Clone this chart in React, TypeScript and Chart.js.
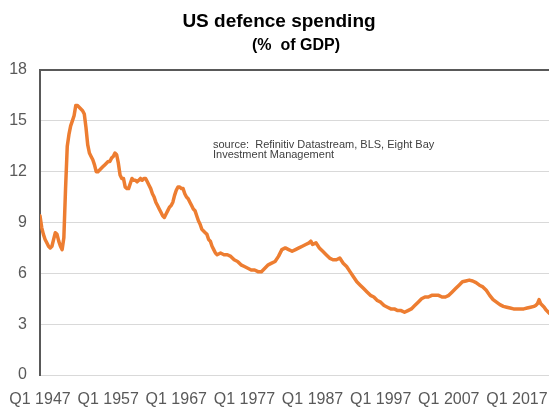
import React, { useEffect, useRef } from "react";
import { Chart, registerables } from "chart.js";

Chart.register(...registerables);

const TITLE = "US defence spending";
const SUBTITLE = "(%  of GDP)";
const SOURCE_LINES = [
  "source:  Refinitiv Datastream, BLS, Eight Bay",
  "Investment Management",
];
const X_TICKS = [1947, 1957, 1967, 1977, 1987, 1997, 2007, 2017];
const X_PREFIX = "Q1 ";

// decimal years (quarter starts)
const periods = [
  1947.0, 1947.25, 1947.5, 1947.75, 1948.0, 1948.25, 1948.5, 1948.75,
  1949.0, 1949.25, 1949.5, 1949.75, 1950.0, 1950.25, 1950.5, 1950.75,
  1951.0, 1951.25, 1951.5, 1951.75, 1952.0, 1952.25, 1952.5, 1952.75,
  1953.0, 1953.25, 1953.5, 1953.75, 1954.0, 1954.25, 1954.5, 1954.75,
  1955.0, 1955.25, 1955.5, 1955.75, 1956.0, 1956.25, 1956.5, 1956.75,
  1957.0, 1957.25, 1957.5, 1957.75, 1958.0, 1958.25, 1958.5, 1958.75,
  1959.0, 1959.25, 1959.5, 1959.75, 1960.0, 1960.25, 1960.5, 1960.75,
  1961.0, 1961.25, 1961.5, 1961.75, 1962.0, 1962.25, 1962.5, 1962.75,
  1963.0, 1963.25, 1963.5, 1963.75, 1964.0, 1964.25, 1964.5, 1964.75,
  1965.0, 1965.25, 1965.5, 1965.75, 1966.0, 1966.25, 1966.5, 1966.75,
  1967.0, 1967.25, 1967.5, 1967.75, 1968.0, 1968.25, 1968.5, 1968.75,
  1969.0, 1969.25, 1969.5, 1969.75, 1970.0, 1970.25, 1970.5, 1970.75,
  1971.0, 1971.25, 1971.5, 1971.75, 1972.0, 1972.25, 1972.5, 1972.75,
  1973.0, 1973.5, 1974.0, 1974.5, 1975.0, 1975.5, 1976.0, 1976.5,
  1977.0, 1977.5, 1978.0, 1978.5, 1979.0, 1979.5, 1980.0, 1980.5,
  1981.0, 1981.5, 1982.0, 1982.5, 1983.0, 1983.5, 1984.0, 1984.5,
  1985.0, 1985.5, 1986.0, 1986.5, 1986.75, 1987.0, 1987.5, 1988.0,
  1988.5, 1989.0, 1989.5, 1990.0, 1990.5, 1991.0, 1991.5, 1992.0,
  1992.5, 1993.0, 1993.5, 1994.0, 1994.5, 1995.0, 1995.5, 1996.0,
  1996.5, 1997.0, 1997.5, 1998.0, 1998.5, 1999.0, 1999.5, 2000.0,
  2000.5, 2001.0, 2001.5, 2002.0, 2002.5, 2003.0, 2003.5, 2004.0,
  2004.5, 2005.0, 2005.5, 2006.0, 2006.5, 2007.0, 2007.5, 2008.0,
  2008.5, 2009.0, 2009.5, 2010.0, 2010.5, 2011.0, 2011.5, 2012.0,
  2012.5, 2013.0, 2013.5, 2014.0, 2014.5, 2015.0, 2015.5, 2016.0,
  2016.5, 2017.0, 2017.5, 2018.0, 2018.5, 2019.0, 2019.5, 2019.75,
  2020.0, 2020.25, 2020.5, 2020.75, 2021.0, 2021.25, 2021.5, 2021.75,
];

const defence = [
  9.4, 8.7, 8.3, 8.0, 7.8, 7.6, 7.5, 7.6,
  8.0, 8.4, 8.3, 7.9, 7.6, 7.4, 8.1, 11.0,
  13.5, 14.2, 14.7, 15.0, 15.3, 15.9, 15.9, 15.8,
  15.7, 15.6, 15.4, 14.6, 13.6, 13.1, 12.9, 12.7,
  12.4, 12.0, 12.0, 12.1, 12.2, 12.3, 12.4, 12.5,
  12.6, 12.6, 12.8, 12.9, 13.1, 13.0, 12.5, 11.8,
  11.6, 11.6, 11.1, 11.0, 11.0, 11.3, 11.6, 11.5,
  11.5, 11.4, 11.5, 11.6, 11.5, 11.6, 11.6, 11.4,
  11.2, 11.0, 10.7, 10.5, 10.2, 10.0, 9.8, 9.6,
  9.4, 9.3, 9.5, 9.7, 9.9, 10.0, 10.2, 10.6,
  10.9, 11.1, 11.1, 11.0, 11.0, 10.7, 10.5, 10.4,
  10.2, 10.0, 9.8, 9.7, 9.4, 9.1, 8.9, 8.6,
  8.5, 8.4, 8.3, 8.0, 7.9, 7.6, 7.4, 7.2,
  7.1, 7.2, 7.1, 7.1, 7.0, 6.8, 6.7, 6.5,
  6.4, 6.3, 6.2, 6.2, 6.1, 6.1, 6.3, 6.5,
  6.6, 6.7, 7.0, 7.4, 7.5, 7.4, 7.3, 7.4,
  7.5, 7.6, 7.7, 7.8, 7.9, 7.7, 7.8, 7.5,
  7.3, 7.1, 6.9, 6.8, 6.8, 6.9, 6.6, 6.4,
  6.1, 5.8, 5.5, 5.3, 5.1, 4.9, 4.7, 4.6,
  4.4, 4.3, 4.1, 4.0, 3.9, 3.9, 3.8, 3.8,
  3.7, 3.8, 3.9, 4.1, 4.3, 4.5, 4.6, 4.6,
  4.7, 4.7, 4.7, 4.6, 4.6, 4.7, 4.9, 5.1,
  5.3, 5.5, 5.55, 5.6, 5.55, 5.45, 5.3, 5.2,
  5.0, 4.7, 4.45, 4.3, 4.15, 4.05, 4.0, 3.95,
  3.9, 3.9, 3.9, 3.9, 3.95, 4.0, 4.05, 4.1,
  4.2, 4.45, 4.2, 4.1, 4.0, 3.85, 3.75, 3.65,
];

const FONT = '"Liberation Sans", Arial, sans-serif';

const textPlugin = {
  id: "headerAndSource",
  afterDraw(chart: any) {
    const { ctx, chartArea } = chart;
    ctx.save();
    ctx.fillStyle = "#000000";
    ctx.textAlign = "center";
    ctx.textBaseline = "middle";
    ctx.font = `bold 19px ${FONT}`;
    ctx.fillText(TITLE, 279, 22);
    ctx.font = `bold 16px ${FONT}`;
    ctx.fillText(SUBTITLE, 296, 46);

    ctx.font = `11px ${FONT}`;
    ctx.fillStyle = "#404040";
    ctx.textAlign = "left";
    SOURCE_LINES.forEach((line, i) => {
      ctx.fillText(line, chartArea.left + 173, chartArea.top + 75 + i * 10);
    });
    ctx.restore();
  },
};

export default function App() {
  const canvasRef = useRef<HTMLCanvasElement | null>(null);

  useEffect(() => {
    if (!canvasRef.current) return;
    Chart.defaults.font.family = FONT;
    const chart = new Chart(canvasRef.current, {
      type: "line",
      data: {
        datasets: [
          {
            label: "US defence spending",
            data: periods.map((p, i) => ({ x: p, y: defence[i] })),
            borderColor: "#ED7D31",
            backgroundColor: "#ED7D31",
            borderWidth: 3.5,
            pointRadius: 0,
            tension: 0,
            borderJoinStyle: "round",
            borderCapStyle: "round",
          },
        ],
      },
      options: {
        animation: false,
        responsive: false,
        maintainAspectRatio: false,
        layout: { padding: { left: 0, right: 9, top: 70, bottom: 0 } },
        plugins: {
          legend: { display: false },
          tooltip: { enabled: false },
          title: { display: false },
          subtitle: { display: false },
        },
        scales: {
          x: {
            type: "linear",
            min: 1947,
            max: 2022,
            grid: { display: false },
            border: { display: false },
            afterBuildTicks: (scale: any) => {
              scale.ticks = X_TICKS.map((v) => ({ value: v }));
            },
            afterFit: (scale: any) => {
              scale.height = 32;
            },
            ticks: {
              autoSkip: false,
              maxRotation: 0,
              color: "#595959",
              font: { size: 16, family: FONT },
              padding: 7,
              callback: (v: any) => X_PREFIX + v,
            },
          },
          y: {
            min: 0,
            max: 18,
            afterFit: (scale: any) => {
              scale.width = 40;
            },
            ticks: {
              stepSize: 3,
              color: "#595959",
              font: { size: 16, family: FONT },
              padding: 13,
            },
            grid: {
              drawTicks: false,
              color: (c: any) => (c.tick && c.tick.value === 18 ? "#595959" : "#d9d9d9"),
              lineWidth: (c: any) => (c.tick && c.tick.value === 18 ? 2 : 1),
            },
            border: { display: true, color: "#595959", width: 2 },
          },
        },
      },
      plugins: [textPlugin],
    } as any);
    return () => chart.destroy();
  }, []);

  return (
    <div
      style={{
        position: "absolute",
        left: 0,
        top: 0,
        width: 549,
        height: 407,
        overflow: "hidden",
        background: "#ffffff",
      }}
    >
      <canvas ref={canvasRef} width={560} height={407} style={{ display: "block" }} />
    </div>
  );
}
